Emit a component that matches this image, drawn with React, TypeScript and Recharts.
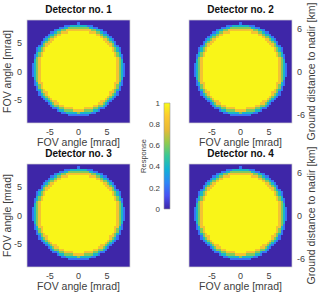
import React from 'react';
import { ScatterChart, Scatter, XAxis, YAxis, ReferenceArea } from 'recharts';

// ---------- data ----------
const detectorTitles = ['Detector no. 1', 'Detector no. 2', 'Detector no. 3', 'Detector no. 4'];
const fovTicks = [-5, 0, 5];
const kmTicks = [-6, 0, 6];
const colorbarTicks = [0, 0.2, 0.4, 0.6, 0.8, 1];
const colorbarRange = [0, 1];
const fovDomain: [number, number] = [-9, 9];
const kmDomain: [number, number] = [-7.2, 7.2];
const cellMrad = 0.4; // 45 x 45 cells over [-9, 9] mrad

// response level of each code used in the rows below
const levelValues: Record<string, number> = { '0': 0, '2': 0.2, '4': 0.4, '6': 0.6, '8': 0.82, a: 0.985 };

// Run-length encoded response rows (top to bottom), "<level>x<count>"
const discRows = [
  '0x45',
  '0x22 2x1 0x22',
  '0x16 2x3 4x7 2x3 0x16',
  '0x14 2x2 4x2 6x9 4x2 2x2 0x14',
  '0x12 2x1 4x2 6x2 8x11 6x2 4x2 2x1 0x12',
  '0x10 2x2 4x1 6x2 8x3 ax9 8x3 6x2 4x1 2x2 0x10',
  '0x9 2x1 4x2 6x1 8x2 ax15 8x2 6x1 4x2 2x1 0x9',
  '0x8 2x1 4x1 6x2 8x1 ax19 8x1 6x2 4x1 2x1 0x8',
  '0x7 2x1 4x1 6x1 8x2 ax21 8x2 6x1 4x1 2x1 0x7',
  '0x6 2x1 4x1 6x1 8x2 ax23 8x2 6x1 4x1 2x1 0x6',
  '0x6 2x1 6x1 8x2 ax25 8x2 6x1 2x1 0x6',
  '0x5 2x1 4x1 6x1 8x1 ax27 8x1 6x1 4x1 2x1 0x5',
  '0x4 2x1 4x1 6x1 8x1 ax29 8x1 6x1 4x1 2x1 0x4',
  '0x4 2x1 4x1 6x1 8x1 ax29 8x1 6x1 4x1 2x1 0x4',
  '0x4 4x1 6x1 8x1 ax31 8x1 6x1 4x1 0x4',
  '0x3 2x1 4x1 6x1 8x1 ax31 8x1 6x1 4x1 2x1 0x3',
  '0x3 2x1 6x1 8x1 ax33 8x1 6x1 2x1 0x3',
  '0x3 4x1 6x1 8x1 ax33 8x1 6x1 4x1 0x3',
  '0x3 4x1 6x1 8x1 ax33 8x1 6x1 4x1 0x3',
  '0x2 2x1 4x1 6x1 8x1 ax33 8x1 6x1 4x1 2x1 0x2',
  '0x2 2x1 4x1 6x1 8x1 ax33 8x1 6x1 4x1 2x1 0x2',
  '0x2 2x1 4x1 6x1 8x1 ax33 8x1 6x1 4x1 2x1 0x2',
  '0x2 2x1 4x1 6x1 8x1 ax33 8x1 6x1 4x1 2x1 0x2',
  '0x2 2x1 4x1 6x1 8x1 ax33 8x1 6x1 4x1 2x1 0x2',
  '0x2 2x1 4x1 6x1 8x1 ax33 8x1 6x1 4x1 2x1 0x2',
  '0x3 4x1 6x1 8x1 ax33 8x1 6x1 4x1 0x3',
  '0x3 2x1 6x1 8x1 ax33 8x1 6x1 2x1 0x3',
  '0x3 2x1 4x1 8x2 ax31 8x2 4x1 2x1 0x3',
  '0x3 2x1 4x1 6x1 8x1 ax31 8x1 6x1 4x1 2x1 0x3',
  '0x4 2x1 6x1 8x1 ax31 8x1 6x1 2x1 0x4',
  '0x4 2x1 4x1 6x1 8x1 ax29 8x1 6x1 4x1 2x1 0x4',
  '0x5 2x1 6x1 8x2 ax27 8x2 6x1 2x1 0x5',
  '0x5 2x1 4x1 6x1 8x1 ax27 8x1 6x1 4x1 2x1 0x5',
  '0x6 2x1 4x1 6x1 8x1 ax25 8x1 6x1 4x1 2x1 0x6',
  '0x7 2x1 4x1 6x1 8x1 ax23 8x1 6x1 4x1 2x1 0x7',
  '0x8 2x1 4x1 6x1 8x2 ax19 8x2 6x1 4x1 2x1 0x8',
  '0x9 2x1 4x1 6x1 8x2 ax17 8x2 6x1 4x1 2x1 0x9',
  '0x10 2x1 4x1 6x2 8x2 ax13 8x2 6x2 4x1 2x1 0x10',
  '0x11 2x2 4x1 6x2 8x4 ax5 8x4 6x2 4x1 2x2 0x11',
  '0x13 2x1 4x2 6x4 8x5 6x4 4x2 2x1 0x13',
  '0x15 2x2 4x5 6x1 4x5 2x2 0x15',
  '0x18 2x9 0x18',
  '0x45',
  '0x45',
  '0x45',
];

// parula colormap stops
const parulaStops: [number, string][] = [
  [0.0, '#3E26A8'],
  [0.125, '#4852F4'],
  [0.25, '#2D87F7'],
  [0.375, '#12B1D6'],
  [0.5, '#37C897'],
  [0.625, '#91CB4E'],
  [0.75, '#E9BA36'],
  [0.875, '#FDCA2F'],
  [1.0, '#F9FB15'],
];

// ---------- helpers ----------
const FONT = '"Liberation Sans", Arial, Helvetica, sans-serif';
const TXT = '#404040';
const PLOT = 103;
const CELLS = 45;

function hexToRgb(h: string) {
  return [parseInt(h.slice(1, 3), 16), parseInt(h.slice(3, 5), 16), parseInt(h.slice(5, 7), 16)];
}
function parula(t: number): string {
  const v = Math.max(0, Math.min(1, t));
  for (let i = 0; i < parulaStops.length - 1; i++) {
    const [t0, c0] = parulaStops[i];
    const [t1, c1] = parulaStops[i + 1];
    if (v <= t1) {
      const f = (v - t0) / (t1 - t0);
      const a = hexToRgb(c0);
      const b = hexToRgb(c1);
      const m = a.map((x, k) => Math.round(x + (b[k] - x) * f));
      return `rgb(${m[0]},${m[1]},${m[2]})`;
    }
  }
  return parulaStops[parulaStops.length - 1][1];
}

type Run = { x: number; y: number; w: number; v: number };
function rowsToRuns(rows: string[]): Run[] {
  const out: Run[] = [];
  rows.forEach((row, j) => {
    let start = 0;
    row.split(' ').forEach((seg) => {
      const [lv, n] = seg.split('x');
      const len = parseInt(n, 10);
      out.push({
        x: fovDomain[0] + cellMrad * (start + len / 2),
        y: fovDomain[1] - cellMrad * (j + 0.5),
        w: len,
        v: levelValues[lv],
      });
      start += len;
    });
  });
  return out;
}

const detectorRuns = detectorTitles.map(() => rowsToRuns(discRows));

const CellShape = (props: any) => {
  const { cx, cy, payload } = props;
  const c = PLOT / CELLS;
  return (
    <rect
      x={cx - (payload.w * c) / 2}
      y={cy - c / 2}
      width={payload.w * c + 0.5}
      height={c + 0.6}
      fill={parula(payload.v)}
      shapeRendering="crispEdges"
    />
  );
};

const HiddenShape = () => <g />;

const tickStyle = { fontSize: 9, fill: TXT, fontFamily: FONT };

function Panel({ idx, left, top, right }: { idx: number; left: number; top: number; right: boolean }) {
  const width = right ? 160 : 135;
  const margin = right ? { top: 20, right: 8, left: 29, bottom: 0 } : { top: 20, right: 5, left: 0, bottom: 0 };
  return (
    <div style={{ position: 'absolute', left, top }}>
      <ScatterChart width={width} height={152} margin={margin}>
        <XAxis
          type="number"
          dataKey="x"
          domain={fovDomain}
          ticks={fovTicks}
          height={29}
          axisLine={false}
          tickLine={false}
          tickSize={4}
          tickMargin={2}
          tick={tickStyle}
          allowDataOverflow
        />
        <YAxis
          yAxisId="mrad"
          type="number"
          dataKey="y"
          domain={fovDomain}
          ticks={fovTicks}
          width={27}
          hide={right}
          axisLine={false}
          tickLine={false}
          tickSize={4}
          tickMargin={1}
          tick={tickStyle}
          allowDataOverflow
        />
        {right && (
          <YAxis
            yAxisId="km"
            orientation="right"
            type="number"
            domain={kmDomain}
            ticks={kmTicks}
            width={20}
            axisLine={false}
            tickLine={false}
            tickSize={4}
            tickMargin={1}
            tick={tickStyle}
            allowDataOverflow
          />
        )}
        <Scatter yAxisId="mrad" data={detectorRuns[idx]} shape={CellShape} isAnimationActive={false} />
      </ScatterChart>
    </div>
  );
}

const colorbarEnds = colorbarRange.map((v) => ({ x: 0.5, y: v }));

function Colorbar() {
  return (
    <div style={{ position: 'absolute', left: 130, top: 93 }}>
      <ScatterChart width={50} height={125} margin={{ top: 10, right: 10, bottom: 9, left: 0 }}>
        <defs>
          <linearGradient id="cbGrad" x1="0" y1="1" x2="0" y2="0">
            {parulaStops.map(([t, c]) => (
              <stop key={t} offset={t} stopColor={c} />
            ))}
          </linearGradient>
        </defs>
        <XAxis type="number" dataKey="x" domain={[0, 1]} hide />
        <YAxis
          type="number"
          dataKey="y"
          domain={[0, 1]}
          ticks={colorbarTicks}
          width={34}
          axisLine={false}
          tickLine={false}
          tickSize={3}
          tickMargin={1}
          tick={{ fontSize: 8, fill: TXT, fontFamily: FONT }}
        />
        <ReferenceArea
          x1={0}
          x2={1}
          y1={colorbarRange[0]}
          y2={colorbarRange[1]}
          fill="url(#cbGrad)"
          fillOpacity={1}
          stroke="#9a9a9a"
          strokeWidth={0.6}
        />
        <Scatter data={colorbarEnds} shape={HiddenShape} isAnimationActive={false} />
      </ScatterChart>
    </div>
  );
}

const panels = [
  { left: 0, top: 0, right: false, px: 27, py: 20 },
  { left: 160, top: 0, right: true, px: 189, py: 20 },
  { left: 0, top: 144, right: false, px: 27, py: 164 },
  { left: 160, top: 144, right: true, px: 189, py: 164 },
];

export default function App() {
  return (
    <div style={{ position: 'absolute', left: 0, top: 0, width: 320, height: 295, background: '#fff', fontFamily: FONT }}>
      {panels.map((p, i) => (
        <Panel key={i} idx={i} left={p.left} top={p.top} right={p.right} />
      ))}
      <Colorbar />
      <svg width={320} height={295} style={{ position: 'absolute', left: 0, top: 0, pointerEvents: 'none' }} fontFamily={FONT}>
        {panels.map((p, i) => {
          const cx = p.px + PLOT / 2;
          const cy = p.py + PLOT / 2;
          return (
            <g key={i}>
              <rect x={p.px} y={p.py} width={PLOT} height={PLOT} fill="none" stroke="#d0d0d0" strokeWidth={0.7} />
              <text x={cx} y={p.py - 7} textAnchor="middle" fontSize={10} fontWeight="bold" fill="#111">
                {detectorTitles[i]}
              </text>
              <text x={cx} y={p.py + PLOT + 23} textAnchor="middle" fontSize={10.5} fill={TXT}>
                FOV angle [mrad]
              </text>
              {!p.right && (
                <text x={11} y={cy} textAnchor="middle" fontSize={10.5} fill={TXT} transform={`rotate(-90 11 ${cy})`}>
                  FOV angle [mrad]
                </text>
              )}
              {p.right && (
                <text x={315} y={cy} textAnchor="middle" fontSize={10.5} fill={TXT} transform={`rotate(-90 315 ${cy})`}>
                  Ground distance to nadir [km]
                </text>
              )}
            </g>
          );
        })}
        <text x={146} y={156} textAnchor="middle" fontSize={7.5} fill={TXT} transform="rotate(-90 146 156)">
          Response
        </text>
      </svg>
    </div>
  );
}
